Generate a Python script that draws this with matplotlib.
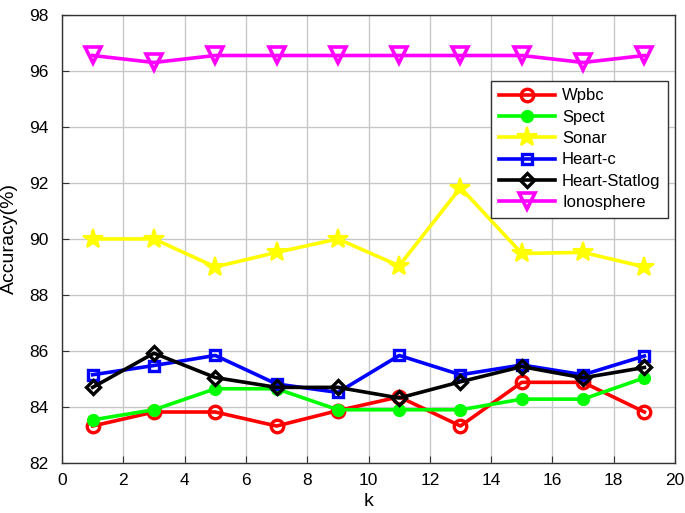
import matplotlib
matplotlib.use("Agg")
import matplotlib.pyplot as plt

plt.rcParams['font.family'] = ['Liberation Sans', 'DejaVu Sans']

k = [1, 3, 5, 7, 9, 11, 13, 15, 17, 19]
wpbc = [83.32, 83.82, 83.82, 83.32, 83.87, 84.36, 83.32, 84.88, 84.88, 83.82]
spect = [83.54, 83.90, 84.65, 84.65, 83.90, 83.90, 83.90, 84.28, 84.28, 85.04]
sonar = [90.0, 90.0, 89.0, 89.52, 90.0, 89.04, 91.83, 89.48, 89.52, 89.0]
heart_c = [85.15, 85.48, 85.84, 84.82, 84.52, 85.84, 85.15, 85.50, 85.15, 85.82]
heart_statlog = [84.70, 85.92, 85.05, 84.70, 84.70, 84.32, 84.90, 85.44, 85.04, 85.41]
ionosphere = [96.55, 96.30, 96.55, 96.55, 96.55, 96.55, 96.55, 96.55, 96.30, 96.55]

xticks = list(range(0, 21, 2))
yticks = list(range(82, 99, 2))

fig = plt.figure(figsize=(6.85, 5.13), dpi=100)
ax = fig.add_axes([0.0905, 0.0975, 0.895, 0.8735])

lw = 2.6
ax.plot(k, wpbc, color='#ff0000', lw=lw, marker='o', ms=9, mfc='none', mew=2.4, label='Wpbc')
ax.plot(k, spect, color='#00ff00', lw=lw, marker='o', ms=8, mfc='#00ff00', mew=1.5, label='Spect')
ax.plot(k, sonar, color='#ffff00', lw=lw, marker='*', ms=15, mfc='#ffff00', mew=1.5, label='Sonar')
ax.plot(k, heart_c, color='#0000ff', lw=lw, marker='s', ms=7.5, mfc='none', mew=2.4, label='Heart-c')
ax.plot(k, heart_statlog, color='#000000', lw=lw, marker='D', ms=7.5, mfc='none', mew=2.4, label='Heart-Statlog')
ax.plot(k, ionosphere, color='#ff00ff', lw=lw, marker='v', ms=11, mfc='none', mew=2.6, label='Ionosphere')

ax.set_xlim(0, 20)
ax.set_ylim(82, 98)
ax.set_xticks(xticks)
ax.set_yticks(yticks)
ax.grid(True, color='#c8c8c8', lw=1)
ax.set_axisbelow(True)
ax.tick_params(direction='in', labelsize=12.5, length=5, color='#333333')
ax.tick_params(axis='y', pad=10)
ax.tick_params(axis='x', pad=7)
for s in ax.spines.values():
    s.set_color('#333333')
    s.set_linewidth(1)
ax.set_xlabel('k', fontsize=14, labelpad=4)
ax.set_ylabel('Accuracy(%)', fontsize=14, labelpad=8)

leg = ax.legend(loc='upper right', bbox_to_anchor=(0.9886, 0.8527), fontsize=12,
                frameon=True, fancybox=False, edgecolor='#333333', framealpha=1,
                handlelength=3.4, borderpad=0.45, labelspacing=0.38, handletextpad=0.4,
                borderaxespad=0)
leg.get_frame().set_linewidth(1)

fig.savefig('out.png', dpi=100)
